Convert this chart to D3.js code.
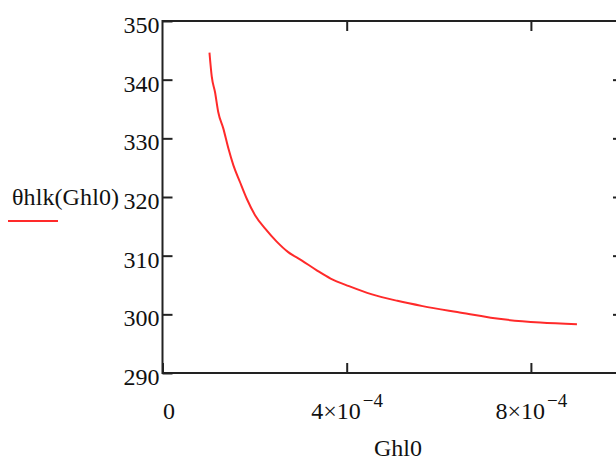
<!DOCTYPE html>
<html>
<head>
<meta charset="utf-8">
<script src="https://cdn.jsdelivr.net/npm/d3@7"></script>
<style>
  body { margin: 0; background: #fff; }
  svg { display: block; }
  text { font-family: "Liberation Serif", "Times New Roman", serif; fill: #111; }
</style>
</head>
<body>
<div id="chart"></div>
<script>
// values
const ghl0 = [1.02e-4, 1.07e-4, 1.14e-4, 1.21e-4, 1.32e-4, 1.43e-4, 1.54e-4, 1.68e-4, 1.83e-4, 2.01e-4,
  2.23e-4, 2.48e-4, 2.73e-4, 3.02e-4, 3.35e-4, 3.65e-4, 4.05e-4, 4.55e-4, 5.1e-4, 5.65e-4,
  6.4e-4, 7.45e-4, 8.2e-4, 9.0e-4];
const thetaHlk = [344.6, 340.5, 337.9, 334.5, 331.7, 328.3, 325.4, 322.6, 319.7, 316.9,
  314.6, 312.4, 310.6, 309.2, 307.5, 306.1, 304.8, 303.4, 302.3, 301.4,
  300.4, 299.1, 298.6, 298.3];
const xTicks = [0, 4e-4, 8e-4];
const xTickLabels = [["0", ""], ["4×10", "−4"], ["8×10", "−4"]];
const yTicks = [290, 300, 310, 320, 330, 340, 350];

const width = 616, height = 461;
const plot = { left: 162.5, right: 623, top: 21, bottom: 373 };

const svg = d3.select("#chart")
  .append("svg")
  .attr("width", width)
  .attr("height", height);

const x = d3.scaleLinear().domain([0, 1e-3]).range([plot.left, plot.right]);
const y = d3.scaleLinear().domain([290, 350]).range([plot.bottom, plot.top]);

// ticks, all pointing into the box
const tickColor = "#222";
function styleAxis(g) {
  g.select(".domain").remove();
  g.selectAll(".tick line").attr("stroke", tickColor).attr("stroke-width", 2);
}

// left axis with labels
svg.append("g")
  .attr("transform", `translate(${plot.left},0)`)
  .call(d3.axisLeft(y).tickValues(yTicks).tickSizeInner(-10).tickSizeOuter(0).tickPadding(3))
  .call(styleAxis)
  .call((g) => g.selectAll(".tick text")
    .attr("font-size", 24)
    .attr("dy", "0.48em")
    .style("font-family", "'Liberation Serif', serif")
    .attr("fill", "#111"));

// right axis, ticks only
svg.append("g")
  .attr("transform", `translate(${plot.right},0)`)
  .call(d3.axisRight(y).tickValues(yTicks.slice(1, -1)).tickSizeInner(-10).tickSizeOuter(0).tickFormat(""))
  .call(styleAxis);

// top axis, ticks only
svg.append("g")
  .attr("transform", `translate(0,${plot.top})`)
  .call(d3.axisTop(x).tickValues(xTicks.slice(1)).tickSizeInner(-10).tickSizeOuter(0).tickFormat(""))
  .call(styleAxis);

// bottom axis with Mathcad style labels
const xAxis = svg.append("g")
  .attr("transform", `translate(0,${plot.bottom})`)
  .call(d3.axisBottom(x).tickValues(xTicks).tickSizeInner(-10).tickSizeOuter(0).tickFormat(""))
  .call(styleAxis);

xAxis.selectAll(".tick").each(function (d, i) {
  const t = d3.select(this).select("text")
    .attr("y", 46)
    .attr("dy", null)
    .attr("font-size", 24)
    .attr("fill", "#111")
    .attr("text-anchor", "middle")
    .style("font-family", "'Liberation Serif', serif");
  t.text(null);
  t.append("tspan").text(xTickLabels[i][0]);
  if (xTickLabels[i][1]) {
    t.append("tspan")
      .attr("font-size", 19)
      .attr("dx", 2)
      .attr("dy", -12)
      .text(xTickLabels[i][1]);
  }
  if (i === 0) t.attr("x", 6);
});

// curve
const line = d3.line()
  .x((d, i) => x(ghl0[i]))
  .y((d) => y(d))
  .curve(d3.curveMonotoneX);

svg.append("path")
  .datum(thetaHlk)
  .attr("fill", "none")
  .attr("stroke", "#ff2a2a")
  .attr("stroke-width", 2)
  .attr("d", line);

// plot box
svg.append("rect")
  .attr("x", plot.left)
  .attr("y", plot.top)
  .attr("width", plot.right - plot.left)
  .attr("height", plot.bottom - plot.top)
  .attr("fill", "none")
  .attr("stroke", tickColor)
  .attr("stroke-width", 2);

// axis titles
svg.append("text")
  .attr("x", 12)
  .attr("y", 205)
  .attr("font-size", 24)
  .attr("textLength", 107)
  .attr("lengthAdjust", "spacing")
  .text("θhlk(Ghl0)");

svg.append("line")
  .attr("x1", 8)
  .attr("x2", 58)
  .attr("y1", 221)
  .attr("y2", 221)
  .attr("stroke", "#ff2a2a")
  .attr("stroke-width", 2);

svg.append("text")
  .attr("x", 398)
  .attr("y", 456)
  .attr("text-anchor", "middle")
  .attr("font-size", 24)
  .text("Ghl0");
</script>
</body>
</html>
